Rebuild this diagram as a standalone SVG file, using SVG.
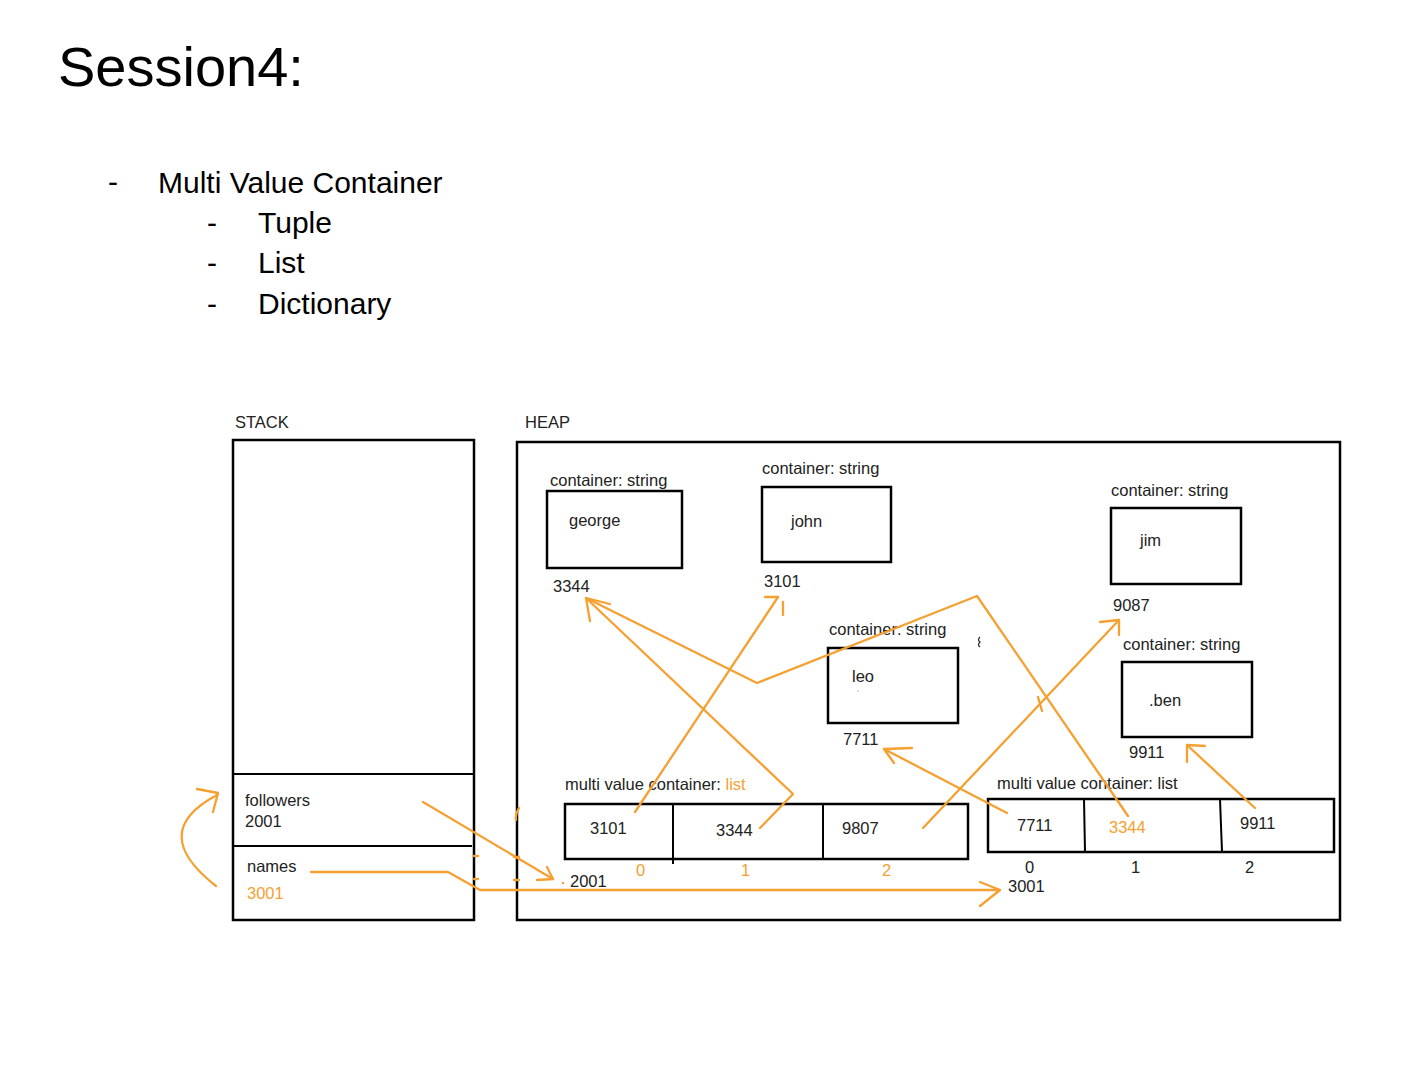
<svg xmlns="http://www.w3.org/2000/svg" width="1414" height="1086" viewBox="0 0 1414 1086">
<style>
text{font-family:"Liberation Sans",Arial,sans-serif;fill:#000}
.h{font-size:30px}
.t{font-size:16.5px;fill:#222}
.o{fill:#F5A031}
.box{fill:none;stroke:#000;stroke-width:2.5}
.ln{fill:none;stroke:#000;stroke-width:2}
.or{fill:none;stroke:#F5A031;stroke-width:2.3;stroke-linecap:round;stroke-linejoin:round}
</style>
<rect width="1414" height="1086" fill="#fff"/>
<g id="header">
<text x="58" y="86" font-size="56">Session4:</text>
<text class="h" x="108" y="192">-</text>
<text class="h" x="158" y="193">Multi Value Container</text>
<text class="h" x="207" y="233">-</text>
<text class="h" x="258" y="233">Tuple</text>
<text class="h" x="207" y="273">-</text>
<text class="h" x="258" y="273">List</text>
<text class="h" x="207" y="314">-</text>
<text class="h" x="258" y="314">Dictionary</text>
</g>
<g id="stack">
<text class="t" x="235" y="428">STACK</text>
<rect class="box" x="233" y="440" width="241" height="480"/>
<line class="ln" x1="233" y1="774" x2="474" y2="774"/>
<line class="ln" x1="233" y1="846" x2="472" y2="846"/>
</g>
<g id="var-followers">
<text class="t" x="245" y="806">followers</text>
<text class="t" x="245" y="827">2001</text>
</g>
<g id="var-names">
<text class="t" x="247" y="872">names</text>
<text class="t o" x="247" y="899">3001</text>
</g>
<g id="heap">
<text class="t" x="525" y="428">HEAP</text>
<rect class="box" x="517" y="442" width="823" height="478"/>
</g>
<g id="str-george">
<text class="t" x="550" y="486">container: string</text>
<rect class="box" x="547" y="491" width="135" height="77"/>
<text class="t" x="569" y="526">george</text>
<text class="t" x="553" y="592">3344</text>
</g>
<g id="str-john">
<text class="t" x="762" y="474">container: string</text>
<rect class="box" x="762" y="487" width="129" height="75"/>
<text class="t" x="791" y="527">john</text>
<text class="t" x="764" y="587">3101</text>
</g>
<g id="str-jim">
<text class="t" x="1111" y="496">container: string</text>
<rect class="box" x="1111" y="508" width="130" height="76"/>
<text class="t" x="1140" y="546">jim</text>
<text class="t" x="1113" y="611">9087</text>
</g>
<g id="str-leo">
<text class="t" x="829" y="635">container: string</text>
<rect class="box" x="828" y="648" width="130" height="75"/>
<text class="t" x="852" y="682">leo</text>
<circle cx="858" cy="691" r="0.7" fill="#999"/>
<text class="t" x="843" y="745">7711</text>
<path d="M980 637 q-3 3 0 5 q-3 3 0 5" fill="none" stroke="#222" stroke-width="1.2"/>
</g>
<g id="str-ben">
<text class="t" x="1123" y="650">container: string</text>
<rect class="box" x="1122" y="662" width="130" height="75"/>
<text class="t" x="1149" y="706">.ben</text>
<text class="t" x="1129" y="758">9911</text>
</g>
<g id="list-followers">
<text class="t" x="565" y="790">multi value container: <tspan class="o">list</tspan></text>
<rect class="box" x="565" y="804" width="403" height="55"/>
<line class="ln" x1="673" y1="804" x2="673" y2="864"/>
<line class="ln" x1="823" y1="804" x2="823" y2="859"/>
<text class="t" x="590" y="834">3101</text>
<text class="t" x="716" y="836">3344</text>
<text class="t" x="842" y="834">9807</text>
<text class="t o" x="636" y="876">0</text>
<text class="t o" x="741" y="876">1</text>
<text class="t o" x="882" y="876">2</text>
<circle cx="563" cy="883" r="1.2" fill="#F5A031"/>
<text class="t" x="570" y="887">2001</text>
</g>
<g id="list-names">
<text class="t" x="997" y="789">multi value container: list</text>
<rect class="box" x="988" y="799" width="346" height="53"/>
<line class="ln" x1="1084" y1="799" x2="1085" y2="852"/>
<line class="ln" x1="1220" y1="799" x2="1222" y2="852"/>
<text class="t" x="1017" y="831">7711</text>
<text class="t o" x="1109" y="833">3344</text>
<text class="t" x="1240" y="829">9911</text>
<text class="t" x="1025" y="873">0</text>
<text class="t" x="1131" y="873">1</text>
<text class="t" x="1245" y="873">2</text>
<text class="t" x="1008" y="892">3001</text>
</g>
<g id="connectors">
<path class="or" d="M216 886 C 170 850, 170 820, 217 795"/>
<path class="or" d="M197 789 L218 793 L213 812"/>
<path class="or" d="M423 802 L553 879"/>
<path class="or" d="M537 880 L553 879 L547 867"/>
<path class="or" d="M311 872 L448 872 L480 890 L1000 890"/>
<path class="or" d="M980 882 L1000 890 L980 906"/>
<path class="or" d="M474 856 L478 856 M474 879 L478 879 M514 857 L519 857 M514 880 L519 880 M519 808 Q515 814 516 820"/>
<path class="or" d="M635 812 L778 597"/>
<path class="or" d="M765 597 L778 597 M783 602 L783 615"/>
<path class="or" d="M760 828 L793 794 L586 598"/>
<path class="or" d="M610 604 L586 598 L590 621"/>
<path class="or" d="M1128 816 L977 596 L757 683 L590 600"/>
<path class="or" d="M923 828 L1119 620"/>
<path class="or" d="M1100 622 L1119 620 L1119 635 M1038 697 L1042 711"/>
<path class="or" d="M1007 813 L884 749"/>
<path class="or" d="M912 748 L884 749 L894 763"/>
<path class="or" d="M1255 808 L1187 745"/>
<path class="or" d="M1205 746 L1187 745 L1187 762"/>
</g>
</svg>
